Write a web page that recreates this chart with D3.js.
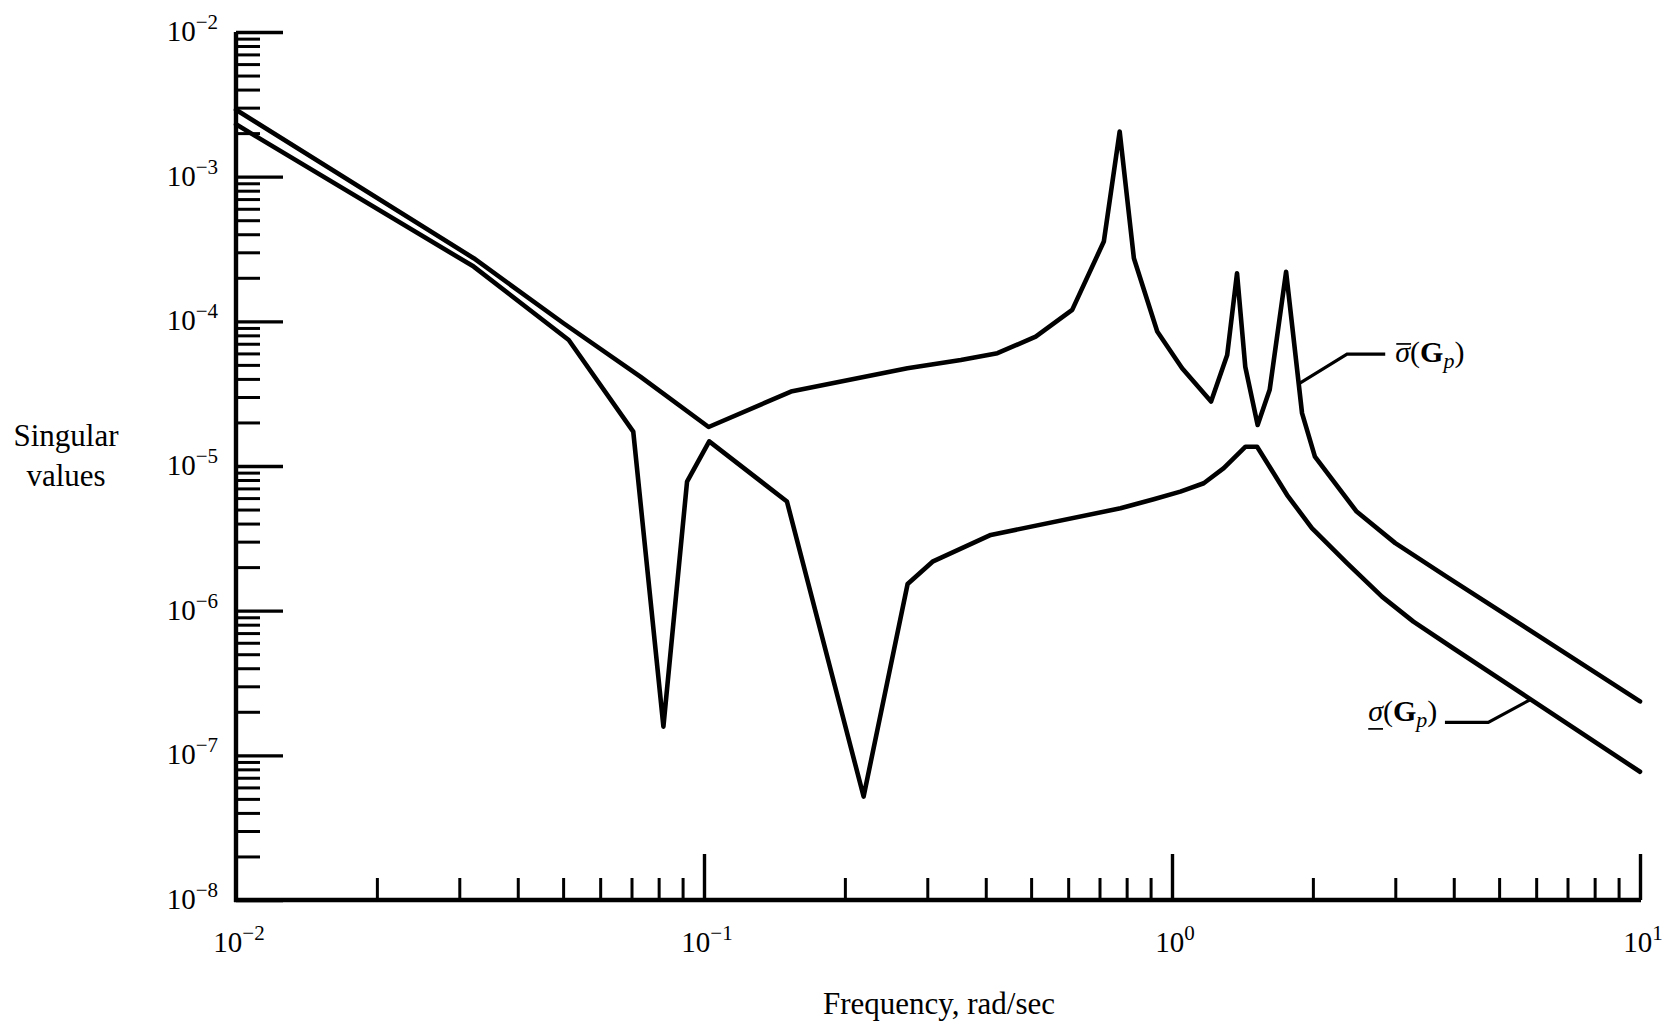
<!DOCTYPE html>
<html><head><meta charset="utf-8">
<script src="https://cdn.jsdelivr.net/npm/d3@7"></script>
<style>
body{margin:0;background:#fff;}
svg{display:block;}
text{font-family:"Liberation Serif","Times New Roman",serif;fill:#000;}
</style>
</head><body>
<svg id="chart" width="1678" height="1027"></svg>
<script>
// ---- data ----
const freqUpper  = [0.01, 0.0322, 0.0501, 0.0731, 0.1023, 0.1534, 0.272, 0.3538, 0.4236, 0.5114, 0.612, 0.715, 0.773, 0.829, 0.930, 1.051, 1.212, 1.312, 1.377, 1.434, 1.524, 1.617, 1.753, 1.896, 2.02, 2.48, 3.0, 3.86, 10];
const sigmaUpper = [2.9e-3, 2.73e-4, 9.7e-5, 4.15e-5, 1.86e-5, 3.27e-5, 4.74e-5, 5.4e-5, 6.02e-5, 7.84e-5, 1.2e-4, 3.56e-4, 2.05e-3, 2.73e-4, 8.5e-5, 4.74e-5, 2.79e-5, 5.86e-5, 2.15e-4, 4.86e-5, 1.92e-5, 3.36e-5, 2.2e-4, 2.32e-5, 1.16e-5, 4.84e-6, 2.93e-6, 1.72e-6, 2.36e-7];
const freqLower  = [0.01, 0.0322, 0.0514, 0.0706, 0.0819, 0.0920, 0.1026, 0.1504, 0.2193, 0.2723, 0.3078, 0.410, 0.776, 0.914, 1.042, 1.169, 1.29, 1.436, 1.52, 1.762, 1.99, 2.366, 2.81, 3.28, 3.99, 10];
const sigmaLower = [2.3e-3, 2.39e-4, 7.43e-5, 1.73e-5, 1.58e-7, 7.8e-6, 1.48e-5, 5.68e-6, 5.19e-8, 1.53e-6, 2.18e-6, 3.34e-6, 5.1e-6, 5.89e-6, 6.65e-6, 7.6e-6, 9.66e-6, 1.36e-5, 1.36e-5, 6.3e-6, 3.72e-6, 2.13e-6, 1.25e-6, 8.4e-7, 5.5e-7, 7.7e-8];

// leader lines for the curve labels (frequency, value)
const leaderUpperFreq  = [1.880, 2.366, 2.855];
const leaderUpperValue = [3.75e-5, 5.93e-5, 5.93e-5];
const leaderLowerFreq  = [5.82, 4.74, 3.83];
const leaderLowerValue = [2.42e-7, 1.69e-7, 1.69e-7];
const labelUpperAt = [3.0, 5.24e-5];   // start of label
const labelLowerAt = [3.69, 1.73e-7];  // end of label

const yDecadeExponents = [-8, -7, -6, -5, -4, -3, -2];
const xDecadeExponents = [-2, -1, 0, 1];
const minorMultipliers = [2, 3, 4, 5, 6, 7, 8, 9];
const yTitleLines = ["Singular", "values"];
const xTitle = "Frequency, rad/sec";

// ---- layout ----
const svg = d3.select("#chart");
const x = d3.scaleLog().domain([1e-2, 1e1]).range([236, 1640]);
const y = d3.scaleLog().domain([1e-8, 1e-2]).range([900, 32]);
const fs = 29, fsExp = 21;

const yMajor = yDecadeExponents.map(e => Math.pow(10, e));
const yMinor = [];
yDecadeExponents.slice(0, -1).forEach(e => minorMultipliers.forEach(m => yMinor.push(m * Math.pow(10, e))));
const xMajor = xDecadeExponents.slice(1).map(e => Math.pow(10, e));
const xMinor = [];
xDecadeExponents.slice(0, -1).forEach(e => minorMultipliers.forEach(m => xMinor.push(m * Math.pow(10, e))));

function styleAxis(g, w) {
  g.select(".domain").remove();
  g.selectAll(".tick line").attr("stroke", "#000").attr("stroke-width", w);
  g.selectAll(".tick text").remove();
}

// y ticks (pointing inward, to the right)
svg.append("g").attr("transform", `translate(${x(1e-2)},0)`)
  .call(d3.axisRight(y).tickValues(yMinor).tickSize(24).tickFormat(""))
  .call(g => styleAxis(g, 3));
svg.append("g").attr("transform", `translate(${x(1e-2)},0)`)
  .call(d3.axisRight(y).tickValues(yMajor).tickSize(47).tickFormat(""))
  .call(g => styleAxis(g, 3.4));

// x ticks (pointing inward, upward)
svg.append("g").attr("transform", `translate(0,${y(1e-8)})`)
  .call(d3.axisTop(x).tickValues(xMinor).tickSize(22).tickFormat(""))
  .call(g => styleAxis(g, 3));
svg.append("g").attr("transform", `translate(0,${y(1e-8)})`)
  .call(d3.axisTop(x).tickValues(xMajor).tickSize(46).tickFormat(""))
  .call(g => styleAxis(g, 3.4));

// axis lines
svg.append("line").attr("x1", x(1e-2)).attr("x2", x(1e-2)).attr("y1", y(1e-2)).attr("y2", y(1e-8) + 2)
  .attr("stroke", "#000").attr("stroke-width", 4.4);
svg.append("line").attr("x1", x(1e-2) - 2).attr("x2", x(1e1) + 1).attr("y1", y(1e-8)).attr("y2", y(1e-8))
  .attr("stroke", "#000").attr("stroke-width", 4.6);

// tick labels
function powerLabel(sel, e) {
  sel.append("tspan").text("10");
  sel.append("tspan").attr("font-size", fsExp).attr("dy", -12).text((e < 0 ? "\u2212" : "") + Math.abs(e));
}
yDecadeExponents.forEach(e => {
  svg.append("text").attr("x", 218).attr("y", y(Math.pow(10, e)) + 9)
    .attr("text-anchor", "end").attr("font-size", fs).call(s => powerLabel(s, e));
});
xDecadeExponents.forEach(e => {
  svg.append("text").attr("x", x(Math.pow(10, e)) + 3).attr("y", 952)
    .attr("text-anchor", "middle").attr("font-size", fs).call(s => powerLabel(s, e));
});

// axis titles
yTitleLines.forEach((t, i) => {
  svg.append("text").attr("x", 66).attr("y", 446 + i * 40).attr("text-anchor", "middle")
    .attr("font-size", 31).text(t);
});
svg.append("text").attr("x", 939).attr("y", 1014).attr("text-anchor", "middle")
  .attr("font-size", 31).text(xTitle);

// curves
const line = d3.line().x(d => x(d[0])).y(d => y(d[1]));
const upper = freqUpper.map((f, i) => [f, sigmaUpper[i]]);
const lower = freqLower.map((f, i) => [f, sigmaLower[i]]);
[upper, lower].forEach(data => {
  svg.append("path").datum(data).attr("d", line)
    .attr("fill", "none").attr("stroke", "#000").attr("stroke-width", 4.6)
    .attr("stroke-linejoin", "round").attr("stroke-linecap", "round");
});

// leaders
const leaderU = leaderUpperFreq.map((f, i) => [f, leaderUpperValue[i]]);
const leaderL = leaderLowerFreq.map((f, i) => [f, leaderLowerValue[i]]);
[leaderU, leaderL].forEach(data => {
  svg.append("path").datum(data).attr("d", line)
    .attr("fill", "none").attr("stroke", "#000").attr("stroke-width", 3.2);
});

// curve labels
function curveLabel(sel) {
  sel.append("tspan").attr("font-style", "italic").text("\u03C3");
  sel.append("tspan").text("(");
  sel.append("tspan").attr("font-weight", "bold").text("G");
  sel.append("tspan").attr("font-style", "italic").attr("font-size", 22).attr("dy", 6).text("p");
  sel.append("tspan").attr("dy", -6).text(")");
}
const lu = svg.append("text").attr("x", x(labelUpperAt[0])).attr("y", y(labelUpperAt[1]))
  .attr("font-size", 30).call(curveLabel);
const ll = svg.append("text").attr("x", x(labelLowerAt[0])).attr("y", y(labelLowerAt[1]))
  .attr("text-anchor", "end").attr("font-size", 30).call(curveLabel);

// overline / underline on sigma
const eu = lu.node().getExtentOfChar(0);
svg.append("line").attr("x1", eu.x + 1).attr("x2", eu.x + eu.width + 1)
  .attr("y1", y(labelUpperAt[1]) - 18).attr("y2", y(labelUpperAt[1]) - 18)
  .attr("stroke", "#000").attr("stroke-width", 1.7);
const el = ll.node().getExtentOfChar(0);
svg.append("line").attr("x1", el.x).attr("x2", el.x + el.width)
  .attr("y1", y(labelLowerAt[1]) + 8).attr("y2", y(labelLowerAt[1]) + 8)
  .attr("stroke", "#000").attr("stroke-width", 1.7);
</script>
</body></html>
